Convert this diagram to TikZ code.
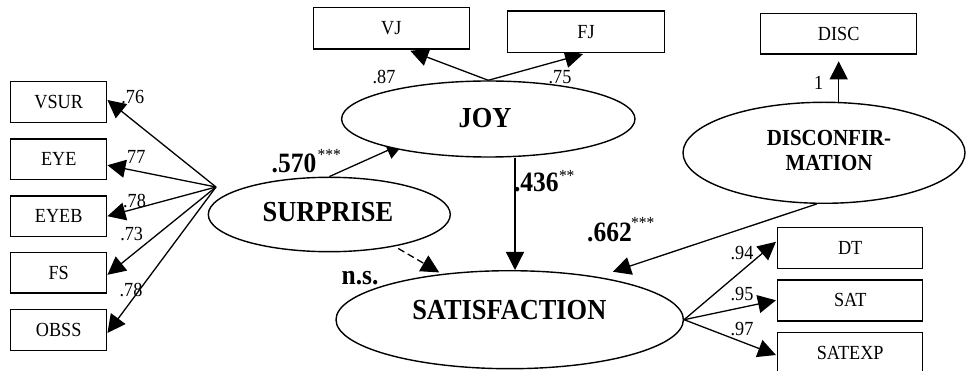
\documentclass[tikz,border=0pt]{standalone}
\usepackage{fontspec}
\setmainfont{Liberation Serif}[FakeStretch=0.91]
\usetikzlibrary{shapes.geometric,arrows.meta,calc}
\pgfdeclarelayer{bg}
\pgfsetlayers{bg,main}
\begin{document}
\begin{tikzpicture}[x=1pt,y=-1pt,
  box/.style={draw,line width=1.5pt,fill=white,inner sep=0pt,minimum width=96pt,minimum height=40.6pt,font=\fontsize{20}{22}\selectfont},
  latent/.style={draw,ellipse,line width=1.4pt,fill=white,inner sep=0pt},
  lbl/.style={inner sep=0pt,font=\fontsize{20}{22}\selectfont},
  big/.style={inner sep=0pt,font=\bfseries\fontsize{29}{32}\selectfont},
  coef/.style={inner sep=0pt,font=\bfseries\fontsize{28}{30}\selectfont},
  stars/.style={inner sep=0pt,font=\fontsize{17}{18}\selectfont},
  arr/.style={line width=1.3pt,-{Triangle[length=18pt,width=18pt]}},
]
\useasboundingbox (0,0) rectangle (967,371);
% observed indicators
\node[box] (VSUR) at (58.7,102) {VSUR};
\node[box] (EYE) at (58.7,159.2) {EYE};
\node[box] (EYEB) at (58.7,216.2) {EYEB};
\node[box] (FS) at (58.7,272.8) {FS};
\node[box] (OBSS) at (58.7,330) {OBSS};
\node[box,minimum width=156pt,minimum height=41.7pt] (VJ) at (391.3,28.2) {VJ};
\node[box,minimum width=156.6pt,minimum height=41.3pt] (FJ) at (586,31.7) {FJ};
\node[box,minimum width=156pt,minimum height=40.7pt] (DISC) at (838.7,33.7) {DISC};
\node[box,minimum width=145pt,minimum height=41pt] (DT) at (850.2,247.8) {DT};
\node[box,minimum width=145pt,minimum height=41pt] (SAT) at (850.2,300.3) {SAT};
\node[box,minimum width=145pt,minimum height=41pt] (SATEXP) at (850.2,353) {SATEXP};
% latent variables
\node[latent,minimum width=293.4pt,minimum height=76pt] (JOY) at (488.3,119) {};
\node[latent,minimum width=242pt,minimum height=74.4pt] (SURP) at (329.3,214.5) {};
\node[latent,minimum width=347.4pt,minimum height=98pt] (SATF) at (509.7,319.7) {};
\node[latent,minimum width=282pt,minimum height=101pt] (DISF) at (824,152.8) {};
\node[big] (tJOY) at (485,118.3) {JOY};
\node[big] (tSURP) at (328,212.5) {SURPRISE};
\node[big] (tSAT) at (509.3,310) {SATISFACTION};
\node[big,font=\bfseries\fontsize{23}{25}\selectfont,align=center] (tDIS) at (829,150.8) {DISCONFIR-\\MATION};
% structural coefficients
\node[coef] (c570) at (294,163.3) {.570};
\node[stars,anchor=west] (s570) at ($(c570.east)+(1,-8)$) {***};
\node[coef] (c436) at (536.3,182.8) {.436};
\node[stars,anchor=west] (s436) at ($(c436.east)+(0,-7)$) {**};
\node[coef] (c662) at (609.5,232.3) {.662};
\node[stars,anchor=west] (s662) at ($(c662.east)+(-1,-9)$) {***};
\node[coef] (ns) at (360,278.5) {n.s.};
% loadings
\node[lbl] (l1) at (132.8,97) {.76};
\node[lbl] (l2) at (134,157) {.77};
\node[lbl] (l3) at (134.5,201) {.78};
\node[lbl] (l4) at (131.7,233.7) {.73};
\node[lbl] (l5) at (131,290.3) {.78};
\node[lbl] (l6) at (384,76.7) {.87};
\node[lbl] (l7) at (560,76.7) {.75};
\node[lbl] (l8) at (818.7,83.3) {1};
\node[lbl] (l9) at (742,253.3) {.94};
\node[lbl] (l10) at (742,294) {.95};
\node[lbl] (l11) at (742,329) {.97};
\begin{pgfonlayer}{bg}
\coordinate (F) at (216,187);
\draw[arr] (F) -- ($(VSUR.east)+(0,-2)$);
\draw[arr] (F) -- ($(EYE.east)+(0,6)$);
\draw[arr] (F) -- (EYEB.east);
\draw[arr] (F) -- ($(FS.east)+(0,2)$);
\draw[arr] (F) -- ($(OBSS.east)+(0,3)$);
\draw[arr] (JOY.north) -- ($(VJ.south)+(19,1)$);
\draw[arr] (JOY.north) -- ($(FJ.south)+(-3,1)$);
\draw[arr,shorten >=-13pt] (SURP.north) -- (JOY.197);
\draw[arr] ($(JOY.south)+(26.7,0)$) -- ($(SATF.north)+(5.3,0)$);
\draw[arr,dash pattern=on 7pt off 4pt,shorten <=4pt,shorten >=3pt] (SURP.-26) -- (SATF.146);
\draw[arr,shorten >=16pt] (DISF.262) -- (SATF.26);
\draw[arr,shorten >=6.5pt] (DISC.south |- DISF.north) -- (DISC.south);
\draw[arr] (SATF.east) -- ($(DT.west)+(-1,-6)$);
\draw[arr] (SATF.east) -- ($(SAT.west)+(-1,0)$);
\draw[arr] (SATF.east) -- ($(SATEXP.west)+(-1,2)$);
\end{pgfonlayer}
\end{tikzpicture}
\end{document}
